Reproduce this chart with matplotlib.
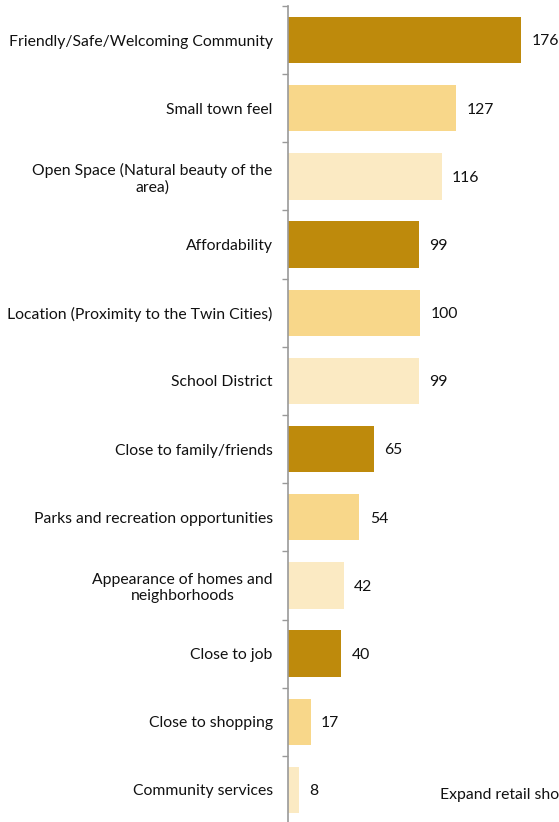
import matplotlib
matplotlib.use("Agg")
import matplotlib.pyplot as plt

plt.rcParams["font.family"] = ["Lato", "DejaVu Sans"]

categories = [
    "Friendly/Safe/Welcoming Community",
    "Small town feel",
    "Open Space (Natural beauty of the\narea)",
    "Affordability",
    "Location (Proximity to the Twin Cities)",
    "School District",
    "Close to family/friends",
    "Parks and recreation opportunities",
    "Appearance of homes and\nneighborhoods",
    "Close to job",
    "Close to shopping",
    "Community services",
]
counts = [176, 127, 116, 99, 100, 99, 65, 54, 42, 40, 17, 8]
palette = ["#BE8A0C", "#F8D78A", "#FBEAC3"]

W, H = 559, 822
FS = 11.35
fig = plt.figure(figsize=(W / 100, H / 100), dpi=100)
ax = fig.add_axes([288 / W, -2 / H, 1 - 288 / W, 818 / H])

ypos = list(range(len(categories)))
colors = [palette[i % 3] for i in ypos]
ax.barh(ypos, counts, height=0.68, color=colors)

for y, v in zip(ypos, counts):
    ax.annotate(str(v), (v, y), xytext=(7.5, -1), textcoords="offset points",
                va="center", ha="left", fontsize=FS, color="#111111")

ax.set_xlim(0, (W - 288) / 1.324)
ax.set_ylim(len(categories) - 0.5, -0.5)

ax.set_yticks(ypos)
ax.set_yticklabels(categories, fontsize=FS, color="#111111", multialignment="center")
ax.tick_params(axis="y", which="major", length=0, pad=11)
ax.set_yticks([i - 0.5 for i in range(len(categories) + 1)], minor=True)
ax.tick_params(axis="y", which="minor", length=4, width=1, color="#999999")
ax.set_xticks([])

for side in ("top", "right", "bottom"):
    ax.spines[side].set_visible(False)
ax.spines["left"].set_color("#999999")
ax.spines["left"].set_linewidth(1.2)

fig.text(440 / W, 1 - 795 / H, "Expand retail shopping", fontsize=FS,
         color="#111111", va="center", ha="left")

fig.savefig("out.png", dpi=100)
